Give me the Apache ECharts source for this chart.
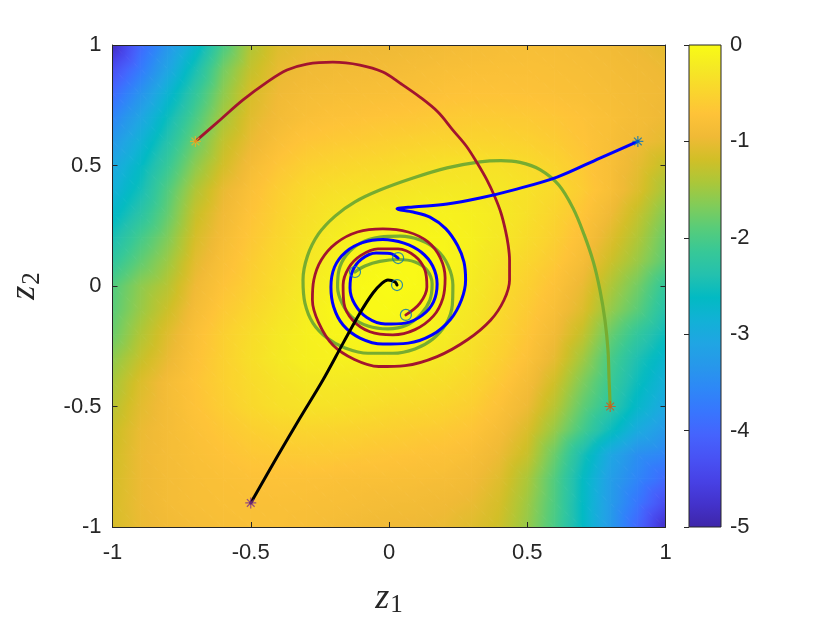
<!DOCTYPE html>
<html>
<head>
<meta charset="utf-8">
<script src="https://cdn.jsdelivr.net/npm/echarts@6/dist/echarts.min.js"></script>
<style>
  html, body { margin: 0; background: #fff; }
  #chart { width: 830px; height: 623px; }
</style>
</head>
<body>
<div id="chart"></div>
<script>
const z1Nodes = [-1, -0.9, -0.8, -0.7, -0.6, -0.5, -0.4, -0.3, -0.2, -0.1, 0, 0.1, 0.2, 0.3, 0.4, 0.5, 0.6, 0.7, 0.8, 0.9, 1];
const z2Nodes = [1, 0.9, 0.8, 0.7, 0.6, 0.5, 0.4, 0.3, 0.2, 0.1, 0, -0.1, -0.2, -0.3, -0.4, -0.5, -0.6, -0.7, -0.8, -0.9, -1];
const fieldRows = [
  [-4.85, -4.0, -3.35, -2.75, -2.0, -1.4, -1.1, -1.02, -1.0, -0.98, -0.97, -0.94, -0.91, -0.88, -0.85, -0.84, -0.85, -0.88, -0.92, -0.98, -1.05],
  [-4.35, -3.75, -3.1, -2.45, -1.75, -1.28, -1.02, -0.95, -0.92, -0.9, -0.88, -0.85, -0.82, -0.8, -0.79, -0.79, -0.81, -0.84, -0.88, -0.93, -0.98],
  [-3.95, -3.4, -2.8, -2.2, -1.6, -1.15, -0.95, -0.87, -0.84, -0.82, -0.8, -0.78, -0.74, -0.72, -0.72, -0.74, -0.77, -0.8, -0.85, -0.9, -0.95],
  [-3.6, -3.1, -2.55, -2.0, -1.45, -1.08, -0.9, -0.8, -0.75, -0.72, -0.69, -0.67, -0.63, -0.61, -0.61, -0.63, -0.67, -0.73, -0.8, -0.88, -0.97],
  [-3.3, -2.85, -2.35, -1.8, -1.3, -1.0, -0.8, -0.68, -0.63, -0.6, -0.56, -0.53, -0.5, -0.49, -0.5, -0.54, -0.6, -0.7, -0.82, -0.93, -1.05],
  [-3.05, -2.65, -2.15, -1.6, -1.18, -0.88, -0.68, -0.55, -0.49, -0.45, -0.42, -0.37, -0.33, -0.32, -0.34, -0.4, -0.5, -0.64, -0.82, -1.03, -1.28],
  [-2.9, -2.5, -1.95, -1.4, -1.02, -0.78, -0.58, -0.44, -0.36, -0.32, -0.3, -0.26, -0.24, -0.24, -0.27, -0.33, -0.44, -0.6, -0.82, -1.1, -1.45],
  [-2.7, -2.3, -1.83, -1.26, -0.94, -0.72, -0.53, -0.38, -0.27, -0.21, -0.18, -0.15, -0.13, -0.16, -0.23, -0.35, -0.5, -0.69, -0.95, -1.27, -1.65],
  [-2.45, -2.05, -1.67, -1.15, -0.87, -0.66, -0.48, -0.32, -0.2, -0.12, -0.09, -0.07, -0.08, -0.15, -0.25, -0.4, -0.56, -0.78, -1.08, -1.4, -1.8],
  [-2.22, -1.85, -1.51, -1.05, -0.8, -0.6, -0.43, -0.27, -0.15, -0.07, -0.03, -0.02, -0.06, -0.18, -0.32, -0.48, -0.64, -0.87, -1.22, -1.53, -1.9],
  [-1.95, -1.6, -1.35, -0.95, -0.72, -0.55, -0.38, -0.22, -0.1, -0.03, 0, -0.03, -0.1, -0.22, -0.38, -0.55, -0.74, -1.0, -1.4, -1.75, -2.2],
  [-1.9, -1.53, -1.22, -0.87, -0.64, -0.48, -0.32, -0.18, -0.06, -0.02, -0.03, -0.07, -0.15, -0.27, -0.43, -0.62, -0.82, -1.1, -1.55, -1.9, -2.35],
  [-1.8, -1.4, -1.08, -0.78, -0.56, -0.4, -0.25, -0.15, -0.08, -0.07, -0.09, -0.12, -0.2, -0.32, -0.48, -0.68, -0.92, -1.28, -1.8, -2.2, -2.55],
  [-1.6, -1.27, -1.0, -0.74, -0.55, -0.37, -0.24, -0.16, -0.13, -0.15, -0.18, -0.21, -0.27, -0.38, -0.55, -0.75, -1.03, -1.48, -2.0, -2.42, -2.75],
  [-1.45, -1.12, -0.88, -0.7, -0.55, -0.42, -0.32, -0.25, -0.24, -0.26, -0.3, -0.33, -0.38, -0.48, -0.65, -0.86, -1.2, -1.68, -2.12, -2.55, -2.9],
  [-1.35, -1.06, -0.88, -0.72, -0.58, -0.45, -0.36, -0.32, -0.33, -0.37, -0.42, -0.45, -0.5, -0.58, -0.75, -0.97, -1.35, -1.85, -2.25, -2.7, -3.05],
  [-1.25, -1.0, -0.87, -0.76, -0.66, -0.57, -0.51, -0.49, -0.5, -0.53, -0.56, -0.6, -0.63, -0.7, -0.87, -1.12, -1.55, -2.05, -2.55, -3.0, -3.3],
  [-1.2, -0.98, -0.87, -0.79, -0.72, -0.66, -0.63, -0.62, -0.63, -0.66, -0.69, -0.72, -0.75, -0.82, -0.98, -1.25, -1.8, -2.45, -3.05, -3.45, -3.6],
  [-1.17, -0.98, -0.88, -0.82, -0.78, -0.75, -0.74, -0.75, -0.77, -0.79, -0.8, -0.82, -0.85, -0.92, -1.08, -1.42, -1.95, -2.6, -3.2, -3.6, -3.95],
  [-1.15, -0.98, -0.88, -0.83, -0.8, -0.79, -0.79, -0.8, -0.82, -0.85, -0.88, -0.9, -0.94, -1.0, -1.16, -1.5, -1.98, -2.62, -3.25, -3.8, -4.35],
  [-1.15, -1.0, -0.92, -0.87, -0.83, -0.81, -0.8, -0.83, -0.88, -0.92, -0.95, -0.97, -1.0, -1.08, -1.22, -1.55, -2.02, -2.62, -3.28, -4.0, -4.8]
];

// trajectories [z1, z2], first point = start (*), last point = end (o)
const redPath = [
  [-0.7, 0.6], [-0.611, 0.689], [-0.528, 0.772], [-0.441, 0.846], [-0.369, 0.896], [-0.297, 0.921],
  [-0.203, 0.929], [-0.105, 0.917], [-0.022, 0.888], [0.04, 0.842], [0.112, 0.784], [0.177, 0.722],
  [0.231, 0.647], [0.28, 0.58], [0.32, 0.508], [0.354, 0.44], [0.383, 0.369], [0.405, 0.303],
  [0.421, 0.232], [0.431, 0.17], [0.436, 0.108], [0.436, 0.025], [0.416, -0.058], [0.368, -0.141],
  [0.285, -0.222], [0.174, -0.293], [0.058, -0.33], [-0.037, -0.334], [-0.125, -0.305], [-0.203, -0.245],
  [-0.255, -0.151], [-0.277, -0.058], [-0.272, 0.025], [-0.245, 0.108], [-0.191, 0.178], [-0.114, 0.224],
  [-0.022, 0.237], [0.069, 0.224], [0.141, 0.183], [0.186, 0.116], [0.203, 0.033], [0.195, -0.05],
  [0.161, -0.124], [0.094, -0.181], [0.014, -0.203], [-0.069, -0.19], [-0.132, -0.141], [-0.163, -0.071],
  [-0.166, 0.004], [-0.146, 0.075], [-0.103, 0.126], [-0.04, 0.154], [0.033, 0.154], [0.094, 0.124],
  [0.13, 0.066], [0.137, -0.004], [0.112, -0.071], [0.061, -0.12]
];
const bluePath = [
  [0.9, 0.6], [0.763, 0.531], [0.608, 0.452], [0.448, 0.398], [0.329, 0.365], [0.21, 0.34],
  [0.087, 0.328], [0.029, 0.32], [0.029, 0.32], [0.087, 0.307], [0.148, 0.286], [0.205, 0.238],
  [0.248, 0.168], [0.271, 0.1], [0.277, 0.025], [0.262, -0.058], [0.222, -0.139], [0.156, -0.203],
  [0.069, -0.237], [-0.022, -0.241], [-0.105, -0.216], [-0.166, -0.162], [-0.2, -0.087], [-0.21, -0.004],
  [-0.197, 0.079], [-0.157, 0.141], [-0.096, 0.18], [-0.022, 0.193], [0.054, 0.178], [0.116, 0.141],
  [0.158, 0.083], [0.174, 0.008], [0.161, -0.066], [0.121, -0.121], [0.058, -0.154], [-0.014, -0.158],
  [-0.08, -0.131], [-0.124, -0.075], [-0.141, -0.008], [-0.132, 0.062], [-0.099, 0.112], [-0.047, 0.137],
  [0.004, 0.135], [0.033, 0.116]
];
const greenPath = [
  [0.8, -0.5], [0.796, -0.39], [0.792, -0.266], [0.781, -0.141], [0.763, -0.017], [0.739, 0.1],
  [0.706, 0.212], [0.666, 0.322], [0.614, 0.419], [0.546, 0.483], [0.474, 0.513], [0.405, 0.52],
  [0.329, 0.515], [0.21, 0.49], [0.087, 0.448], [-0.033, 0.398], [-0.123, 0.349], [-0.195, 0.29],
  [-0.255, 0.216], [-0.295, 0.124], [-0.311, 0.025], [-0.304, -0.071], [-0.275, -0.154], [-0.224, -0.216],
  [-0.159, -0.257], [-0.076, -0.279], [0.014, -0.279], [0.094, -0.261], [0.159, -0.22], [0.206, -0.158],
  [0.229, -0.079], [0.231, 0.004], [0.213, 0.087], [0.174, 0.149], [0.112, 0.191], [0.04, 0.207],
  [-0.033, 0.203], [-0.103, 0.178], [-0.154, 0.129], [-0.181, 0.066], [-0.186, -0.004], [-0.17, -0.071],
  [-0.134, -0.129], [-0.076, -0.166], [-0.004, -0.178], [0.065, -0.162], [0.116, -0.116], [0.148, -0.058],
  [0.156, 0.008], [0.137, 0.066], [0.094, 0.1], [0.033, 0.11], [-0.033, 0.102], [-0.087, 0.083],
  [-0.123, 0.058]
];
const blackPath = [
  [-0.5, -0.9], [-0.405, -0.71], [-0.322, -0.548], [-0.239, -0.39], [-0.166, -0.237], [-0.105, -0.112],
  [-0.058, -0.029], [-0.025, 0.012], [-0.004, 0.025], [0.022, 0.017], [0.029, 0.004]
];

const paths = [
  { data: greenPath, color: '#77ac30', width: 3.2, star: '#d95319' },
  { data: redPath, color: '#a2142f', width: 2.8, star: '#edb120' },
  { data: bluePath, color: '#0000ff', width: 3, star: '#0072bd' },
  { data: blackPath, color: '#000000', width: 3, star: '#7e2f8e' }
];

// parula
const parula = ['#3e26a8', '#4332cb', '#4741e5', '#4852f4', '#4563fd', '#3875fe', '#2e87f7', '#2797eb',
  '#20a5e3', '#12b1d6', '#02bac3', '#24c1ae', '#37c897', '#57cc7a', '#81cc59', '#abc739', '#d1bf27',
  '#f0ba36', '#fec338', '#fad62d', '#f5e924', '#f9fb15'].map(h => [
    parseInt(h.slice(1, 3), 16), parseInt(h.slice(3, 5), 16), parseInt(h.slice(5, 7), 16)]);
const cMin = -5, cMax = 0;

function colorAt(v) {
  let t = (v - cMin) / (cMax - cMin);
  t = Math.max(0, Math.min(1, t)) * (parula.length - 1);
  const i = Math.min(parula.length - 2, Math.floor(t));
  const f = t - i;
  const a = parula[i], b = parula[i + 1];
  return 'rgb(' + [0, 1, 2].map(k => Math.round(a[k] + (b[k] - a[k]) * f)).join(',') + ')';
}

// one triangle, colour follows the field linearly inside it
function shadeTri(p0, p1, p2) {
  const dx1 = p1.x - p0.x, dy1 = p1.y - p0.y, dv1 = p1.v - p0.v;
  const dx2 = p2.x - p0.x, dy2 = p2.y - p0.y, dv2 = p2.v - p0.v;
  const det = dx1 * dy2 - dx2 * dy1;
  const a = (dv1 * dy2 - dv2 * dy1) / det;
  const b = (dx1 * dv2 - dx2 * dv1) / det;
  const g2 = a * a + b * b;
  const lo = Math.min(p0.v, p1.v, p2.v), hi = Math.max(p0.v, p1.v, p2.v);
  let fill;
  if (hi - lo < 1e-6 || g2 < 1e-12) {
    fill = colorAt(lo);
  } else {
    const sx = p0.x + (lo - p0.v) * a / g2, sy = p0.y + (lo - p0.v) * b / g2;
    const ex = p0.x + (hi - p0.v) * a / g2, ey = p0.y + (hi - p0.v) * b / g2;
    const stops = [];
    for (let k = 0; k <= 6; k++) stops.push({ offset: k / 6, color: colorAt(lo + (hi - lo) * k / 6) });
    fill = new echarts.graphic.LinearGradient(sx, sy, ex, ey, stops, true);
  }
  return {
    type: 'polygon',
    shape: { points: [[p0.x, p0.y], [p1.x, p1.y], [p2.x, p2.y]] },
    style: { fill: fill, stroke: fill, lineWidth: 1 }
  };
}

function renderCell(params, api) {
  const i = api.value(0), j = api.value(1);
  const c = [[i, j], [i + 1, j], [i + 1, j + 1], [i, j + 1]].map(([a, b]) => {
    const p = api.coord([z1Nodes[a], z2Nodes[b]]);
    return { x: p[0], y: p[1], v: fieldRows[b][a] };
  });
  return { type: 'group', children: [shadeTri(c[0], c[1], c[2]), shadeTri(c[0], c[2], c[3])] };
}

function renderBar(params, api) {
  const p0 = api.coord([0, cMax]), p1 = api.coord([1, cMin]);
  const stops = parula.map((c, k) => ({ offset: k / (parula.length - 1), color: 'rgb(' + c.join(',') + ')' }));
  return {
    type: 'rect',
    shape: { x: p0[0], y: p0[1], width: p1[0] - p0[0], height: p1[1] - p0[1] },
    style: { fill: new echarts.graphic.LinearGradient(0, 1, 0, 0, stops), stroke: '#262626', lineWidth: 1 }
  };
}

const cells = [];
for (let i = 0; i < z1Nodes.length - 1; i++)
  for (let j = 0; j < z2Nodes.length - 1; j++) cells.push([i, j]);

const ink = '#262626';
const tickFont = { color: ink, fontSize: 22, fontFamily: 'Liberation Sans, Arial, sans-serif' };
const starPath = 'path://M5,0L5,10M0,5L10,5M1.5,1.5L8.5,8.5M1.5,8.5L8.5,1.5';
const nameStyle = {
  color: ink,
  rich: {
    v: { fontSize: 36, fontStyle: 'italic', fontFamily: 'Liberation Serif, serif', color: ink },
    s: { fontSize: 25, fontFamily: 'Liberation Serif, serif', color: ink, padding: [14, 0, 0, 1] }
  }
};

function mainAxis(extra) {
  return Object.assign({
    type: 'value', min: -1, max: 1, interval: 0.5, gridIndex: 0, z: 5,
    axisLine: { show: true, onZero: false, lineStyle: { color: ink, width: 1 } },
    axisTick: { show: true, inside: true, length: 5, lineStyle: { color: ink } },
    splitLine: { show: false },
    axisLabel: Object.assign({ show: true, margin: 11, showMinLabel: true, showMaxLabel: true }, tickFont)
  }, extra);
}

const chart = echarts.init(document.getElementById('chart'), null, { renderer: 'canvas' });
chart.setOption({
  animation: false,
  backgroundColor: '#ffffff',
  grid: [
    { left: 112.5, top: 45, width: 553, height: 482, outerBoundsMode: 'none' },
    { left: 689, top: 45, width: 32, height: 482, outerBoundsMode: 'none' }
  ],
  xAxis: [
    mainAxis({ position: 'bottom', axisLabel: Object.assign({ margin: 15, showMinLabel: true, showMaxLabel: true }, tickFont),
      name: '{v|z}{s|1}', nameLocation: 'middle', nameGap: 52, nameMoveOverlap: false, nameTextStyle: nameStyle }),
    mainAxis({ position: 'top', axisLabel: { show: false } }),
    { type: 'value', gridIndex: 1, min: 0, max: 1, show: false }
  ],
  yAxis: [
    mainAxis({ position: 'left', name: '{v|z}{s|2}', nameLocation: 'middle', nameRotate: 90, nameGap: 68,
      nameMoveOverlap: false, nameTextStyle: nameStyle }),
    mainAxis({ position: 'right', axisLabel: { show: false } }),
    {
      type: 'value', gridIndex: 1, min: cMin, max: cMax, interval: 1, position: 'right', z: 5,
      axisLine: { show: false },
      axisTick: { show: true, inside: true, length: 5, lineStyle: { color: ink } },
      splitLine: { show: false },
      axisLabel: Object.assign({ margin: 9, showMinLabel: true, showMaxLabel: true }, tickFont)
    }
  ],
  series: [
    { type: 'custom', xAxisIndex: 0, yAxisIndex: 0, renderItem: renderCell, data: cells, silent: true, clip: true, z: 1 },
    { type: 'custom', xAxisIndex: 2, yAxisIndex: 2, renderItem: renderBar, data: [[0]], silent: true, z: 1 }
  ].concat(paths.map(p => ({
    type: 'line', xAxisIndex: 0, yAxisIndex: 0, data: p.data, smooth: 0.35, showSymbol: false,
    lineStyle: { color: p.color, width: p.width, join: 'round', cap: 'round' }, silent: true, z: 3
  }))).concat([
    {
      type: 'scatter', xAxisIndex: 0, yAxisIndex: 0, symbol: starPath, symbolSize: 11, silent: true, z: 4,
      data: paths.map(p => ({ value: p.data[0], itemStyle: { color: 'transparent', borderColor: p.star, borderWidth: 1.2 } }))
    },
    {
      type: 'scatter', xAxisIndex: 0, yAxisIndex: 0, symbol: 'circle', symbolSize: 11, silent: true, z: 4,
      itemStyle: { color: 'transparent', borderColor: '#0072bd', borderWidth: 1.2 },
      data: paths.map(p => p.data[p.data.length - 1])
    }
  ])
});
</script>
</body>
</html>
